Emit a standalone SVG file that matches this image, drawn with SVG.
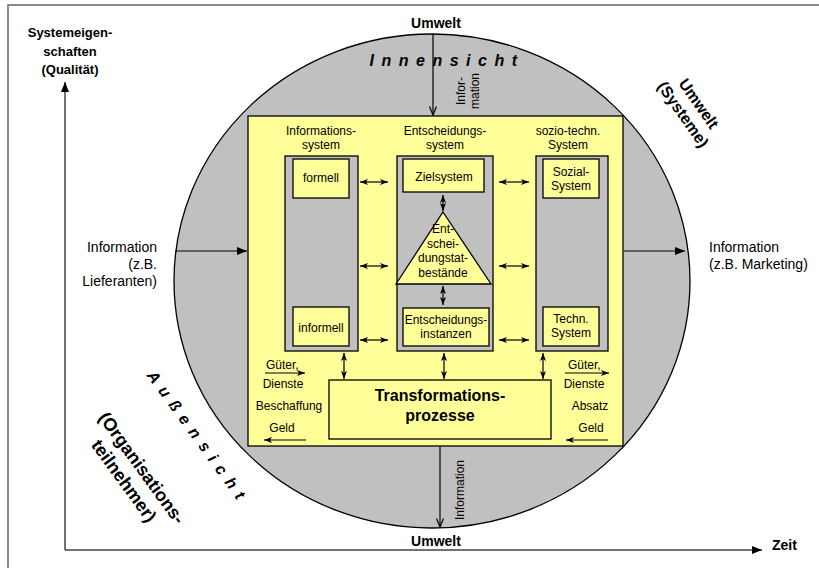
<svg xmlns="http://www.w3.org/2000/svg" width="819" height="568" viewBox="0 0 819 568">
<style>
text{font-family:"Liberation Sans",Arial,sans-serif;fill:#000}
.s12{font-size:12px}
.s14{font-size:14px}
.b{font-weight:bold}
.m{text-anchor:middle}
.e{text-anchor:end}
.box{fill:#ffff99;stroke:#000;stroke-width:1.3}
.col{fill:#c0c0c0;stroke:#000;stroke-width:1.3}
.ln{stroke:#000;stroke-width:1.2;fill:none}
.dbl{stroke:#000;stroke-width:1.2;fill:none;marker-start:url(#sh);marker-end:url(#sh)}
.sp{font-size:16px;font-weight:bold;font-style:italic;letter-spacing:7.5px}
</style>
<defs>
<marker id="ah" viewBox="0 0 10 8" refX="10" refY="4" markerWidth="10" markerHeight="8" markerUnits="userSpaceOnUse" orient="auto-start-reverse"><path d="M0,0 L10,4 L0,8 z" fill="#000"/></marker>
<marker id="sh" viewBox="0 0 8 6" refX="8" refY="3" markerWidth="8" markerHeight="6" markerUnits="userSpaceOnUse" orient="auto-start-reverse"><path d="M0,0 L8,3 L0,6 L2,3 z" fill="#000"/></marker>
<marker id="ov" viewBox="0 0 10 10" refX="9.5" refY="5" markerWidth="10" markerHeight="10" markerUnits="userSpaceOnUse" orient="auto"><path d="M1,1.5 L9.5,5 L1,8.5" fill="none" stroke="#000" stroke-width="1.2"/></marker>
</defs>

<!-- frame and axes -->
<g id="frame">
<path d="M8,568 L8,5 L819,5" fill="none" stroke="#666" stroke-width="1.5"/>
<path d="M65,550 L65,82" fill="none" stroke="#444" stroke-width="1.5" marker-end="url(#ah)"/>
<path d="M65,550 L762,550" fill="none" stroke="#444" stroke-width="1.5" marker-end="url(#ah)"/>
<text class="s14 b m" x="70" y="37" style="font-size:13px">Systemeigen-</text>
<text class="s14 b m" x="70" y="56" style="font-size:13px">schaften</text>
<text class="s14 b m" x="70" y="74" style="font-size:13px">(Qualität)</text>
<text class="s14 b" x="772" y="550">Zeit</text>
</g>

<!-- environment circle -->
<g id="umwelt">
<ellipse cx="432" cy="281" rx="258" ry="247" fill="#c0c0c0" stroke="#000" stroke-width="1.3"/>
<text class="s14 b m" x="436" y="28">Umwelt</text>
<text class="s14 b m" x="436" y="546">Umwelt</text>
<text class="sp m" x="447" y="66">Innensicht</text>
<text class="b m" transform="translate(691,109) rotate(55)" style="font-size:16px"><tspan x="0" y="-4">Umwelt</tspan><tspan x="0" y="15">(Systeme)</tspan></text>
<text class="sp m" transform="translate(194,441) rotate(54)">Außensicht</text>
<text class="b m" transform="translate(132,475) rotate(54)" style="font-size:18px"><tspan x="0" y="-6">(Organisations-</tspan><tspan x="0" y="16">teilnehmer)</tspan></text>
<text class="s14 e" x="157" y="252">Information</text>
<text class="s14 e" x="157" y="269">(z.B.</text>
<text class="s14 e" x="157" y="286">Lieferanten)</text>
<text class="s14" x="709" y="252">Information</text>
<text class="s14" x="709" y="269">(z.B. Marketing)</text>
<text class="s12 m" transform="translate(466,91) rotate(-90)"><tspan x="0" y="-1">Infor-</tspan><tspan x="0" y="13">mation</tspan></text>
<text class="s12 m" transform="translate(464,490) rotate(-90)">Information</text>
</g>

<!-- organisation box -->
<g id="organisation">
<rect class="box" x="248" y="116" width="375" height="330"/>
<text class="s12 m" x="321" y="135">Informations-</text>
<text class="s12 m" x="321" y="149">system</text>
<text class="s12 m" x="445" y="135">Entscheidungs-</text>
<text class="s12 m" x="445" y="149">system</text>
<text class="s12 m" x="568" y="135">sozio-techn.</text>
<text class="s12 m" x="568" y="149">System</text>
<text class="s12" x="266" y="369">Güter,</text>
<text class="s12 m" x="283" y="388">Dienste</text>
<text class="s12 m" x="289" y="410">Beschaffung</text>
<text class="s12 m" x="282" y="432">Geld</text>
<text class="s12" x="568" y="369">Güter,</text>
<text class="s12 m" x="584" y="388">Dienste</text>
<text class="s12 m" x="590" y="410">Absatz</text>
<text class="s12 m" x="591" y="432">Geld</text>
</g>

<g id="informationssystem">
<rect class="col" x="285" y="156" width="73" height="195"/>
</g>
<g id="formell">
<rect class="box" x="293" y="159" width="56" height="39"/>
<text class="s12 m" x="321" y="182">formell</text>
</g>
<g id="informell">
<rect class="box" x="293" y="307" width="56" height="39"/>
<text class="s12 m" x="321" y="332">informell</text>
</g>

<g id="entscheidungssystem">
<rect class="col" x="397" y="156" width="96" height="195"/>
</g>
<g id="zielsystem">
<rect class="box" x="403" y="159" width="81" height="33"/>
<text class="s12 m" x="444" y="181">Zielsystem</text>
</g>
<g id="entscheidungstatbestaende">
<polygon class="box" points="443,212 491,284 396,284"/>
<text class="s12 m" x="443" y="233">Ent-</text>
<text class="s12 m" x="443" y="247.5">schei-</text>
<text class="s12 m" x="443" y="262">dungstat-</text>
<text class="s12 m" x="443" y="276.5">bestände</text>
</g>
<g id="entscheidungsinstanzen">
<rect class="box" x="403" y="308" width="86" height="38"/>
<text class="s12 m" x="446" y="324">Entscheidungs-</text>
<text class="s12 m" x="446" y="338">instanzen</text>
</g>

<g id="soziotechn">
<rect class="col" x="536" y="156" width="72" height="195"/>
</g>
<g id="sozialsystem">
<rect class="box" x="543" y="159" width="56" height="39"/>
<text class="s12 m" x="571" y="176">Sozial-</text>
<text class="s12 m" x="571" y="190">System</text>
</g>
<g id="technsystem">
<rect class="box" x="543" y="307" width="56" height="39"/>
<text class="s12 m" x="571" y="323">Techn.</text>
<text class="s12 m" x="571" y="337">System</text>
</g>

<g id="transformation">
<rect class="box" x="329" y="380" width="222" height="59"/>
<text class="b m" x="440" y="401" style="font-size:16px">Transformations-</text>
<text class="b m" x="440" y="421" style="font-size:16px">prozesse</text>
</g>

<!-- connectors -->
<g id="connectors">
<path d="M433,34 L433,115" class="ln" marker-end="url(#ov)"/>
<path d="M440,447 L440,527" class="ln" marker-end="url(#ov)"/>
<path d="M175,251 L247,251" class="ln" marker-end="url(#ah)"/>
<path d="M624,251 L685,251" class="ln" marker-end="url(#ah)"/>
<path d="M360,182 L388,182" class="dbl"/>
<path d="M360,266 L388,266" class="dbl"/>
<path d="M360,340 L388,340" class="dbl"/>
<path d="M499,182 L529,182" class="dbl"/>
<path d="M499,266 L529,266" class="dbl"/>
<path d="M499,340 L529,340" class="dbl"/>
<path d="M443,195 L443,211" class="dbl"/>
<path d="M443,286 L443,305" class="dbl"/>
<path d="M344,353 L344,379" class="dbl"/>
<path d="M444,353 L444,379" class="dbl"/>
<path d="M543,353 L543,379" class="dbl"/>
<path d="M265,373 L305,373" class="ln" marker-end="url(#sh)"/>
<path d="M565,373 L609,373" class="ln" marker-end="url(#sh)"/>
<path d="M306,440 L264,440" class="ln" marker-end="url(#sh)"/>
<path d="M608,440 L566,440" class="ln" marker-end="url(#sh)"/>
</g>
</svg>
